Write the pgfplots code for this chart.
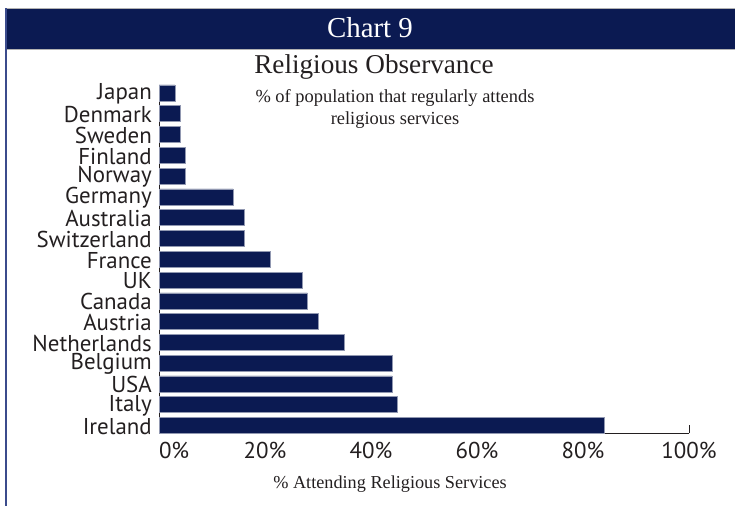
\documentclass[border=0pt]{standalone}
\usepackage{pgfplots}
\pgfplotsset{compat=1.18}
\usepackage{fontspec}
\setmainfont{Liberation Serif}
\newfontfamily\sansf{PT Sans}
\definecolor{navy}{HTML}{0B1A52}
\definecolor{txt}{HTML}{231F20}
\definecolor{frame}{HTML}{3B4B8C}
\begin{document}
\begin{tikzpicture}[x=1bp,y=1bp]
\useasboundingbox (0,0) rectangle (735,506);
% header band
\fill[navy] (5,457) rectangle (736,498);
\draw[gray!60,line width=0.8bp] (5,498) -- (736,498);
\draw[gray!60,line width=0.8bp] (5,457) -- (736,457);
\draw[frame,line width=1.6bp] (6,0) -- (6,498);
\node[white,anchor=base,font=\fontsize{29}{31}\selectfont] at (370,468) {Chart 9};
% titles
\node[txt,anchor=base,font=\fontsize{27.3}{29}\selectfont] at (374,432) {Religious Observance};
\node[txt,anchor=base,font=\fontsize{18.5}{20}\selectfont] at (395,403) {\% of population that regularly attends};
\node[txt,anchor=base,font=\fontsize{18.5}{20}\selectfont] at (395,381) {religious services};
\node[txt,anchor=base,font=\fontsize{18.3}{20}\selectfont] at (390,17) {\% Attending Religious Services};
\begin{axis}[
  at={(159bp,72.5bp)}, anchor=south west,
  scale only axis, width=530bp, height=348.5bp,
  xbar, y dir=reverse,
  xmin=0, xmax=100,
  ymin=-0.385, ymax=16.385,
  bar width=0.77,
  axis lines=left,
  axis line style={-, txt, line width=0.8bp},
  xtick={0,20,40,60,80},
  xticklabels={\makebox[0pt][l]{0\%},20\%,40\%,60\%,80\%},
  extra x ticks={100},
  extra x tick labels={100\%},
  extra x tick style={major tick length=8bp},
  tick align=inside,
  major tick length=4bp,
  x tick style={txt, line width=0.8bp},
  ytick={0,...,16},
  yticklabels={Japan,Denmark,Sweden,Finland,Norway,Germany,Australia,Switzerland,France,UK,Canada,Austria,Netherlands,Belgium,USA,Italy,Ireland},
  y tick style={draw=none},
  yticklabel style={txt, font=\sansf\fontsize{23}{23}\selectfont, inner sep=0pt, xshift=-7bp, yshift=-1bp},
  xticklabel style={txt, font=\sansf\fontsize{23}{23}\selectfont, yshift=-5bp},
  clip=false,
]
\addplot[fill=navy, draw=navy!45!white, line width=0.6bp] coordinates {
(3,0) (4,1) (4,2) (5,3) (5,4) (14,5) (16,6) (16,7) (21,8) (27,9) (28,10) (30,11) (35,12) (44,13) (44,14) (45,15) (84,16)
};
\end{axis}
\end{tikzpicture}
\end{document}
